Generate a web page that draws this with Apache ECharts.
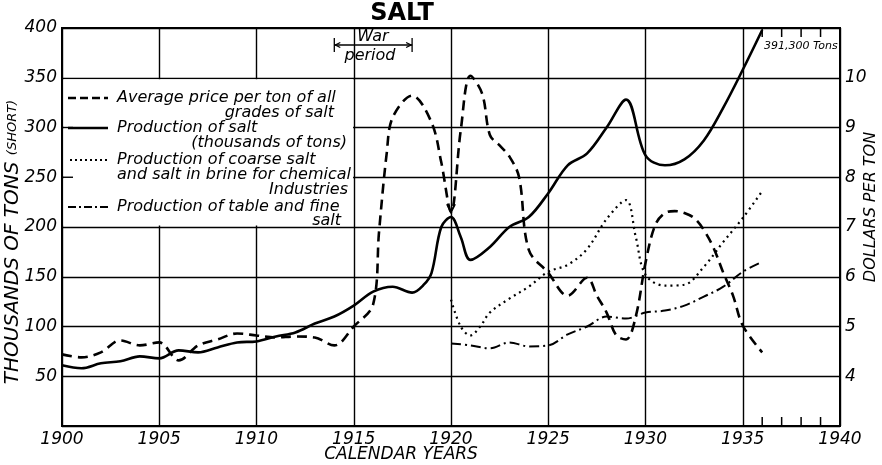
<!DOCTYPE html>
<html>
<head>
<meta charset="utf-8">
<script src="https://cdn.jsdelivr.net/npm/echarts@6/dist/echarts.min.js"></script>
<style>
html, body { margin: 0; background: #fff; }
#chart { width: 882px; height: 465px; }
</style>
</head>
<body>
<div id="chart"></div>
<script>
// average price per ton, dollars (right axis)
var priceYears = [1900, 1901, 1902, 1903, 1904, 1905, 1906, 1907, 1908, 1909, 1910, 1911, 1912, 1913, 1914, 1915,
	1916, 1916.3, 1916.7, 1917, 1918, 1919, 1919.5, 1920, 1920.5, 1921, 1921.6, 1922, 1922.5, 1923, 1923.5,
	1924, 1925, 1926, 1927, 1927.5, 1928, 1928.5, 1929, 1929.5, 1930, 1930.5, 1931, 1931.5, 1932, 1932.5,
	1933, 1933.5, 1934, 1934.5, 1935, 1936];
var priceValues = [4.44, 4.38, 4.48, 4.72, 4.62, 4.68, 4.32, 4.62, 4.74, 4.86, 4.82, 4.78, 4.8, 4.78, 4.62, 5.0,
	5.45, 6.9, 8.5, 9.2, 9.64, 9.1, 8.3, 7.3, 8.94, 10.04, 9.68, 8.85, 8.64, 8.42, 8.0,
	6.54, 6.08, 5.62, 5.98, 5.62, 5.28, 4.82, 4.74, 5.2, 6.28, 7.04, 7.28, 7.32, 7.28, 7.18,
	6.94, 6.58, 6.08, 5.62, 5.02, 4.48];

// production of salt, thousands of tons
var saltYears = [1900, 1901, 1902, 1903, 1904, 1905, 1906, 1907, 1908, 1909, 1910, 1911, 1912, 1913, 1914, 1915,
	1916, 1917, 1918, 1918.6, 1919, 1919.5, 1920, 1920.5, 1921, 1922, 1923, 1924, 1925, 1926, 1927, 1928,
	1929, 1930, 1931, 1932, 1933, 1934, 1935, 1936];
var saltValues = [61, 58, 63, 65, 70, 68, 76, 74, 79, 84, 85, 90, 94, 103, 110, 121,
	135, 140, 134, 142, 154, 200, 210, 190, 167, 180, 200, 210, 234, 262, 274, 300,
	328, 272, 262, 268, 287, 320, 358, 398];

// coarse salt and salt in brine for chemical industries
var coarseYears = [1920, 1920.5, 1921, 1921.5, 1922, 1923, 1924, 1925, 1926, 1927, 1928, 1929, 1929.5,
	1930, 1931, 1932, 1933, 1934, 1935, 1936];
var coarseValues = [127, 100, 91, 100, 114, 128, 140, 155, 162, 178, 208, 227, 190,
	152, 141, 142, 160, 185, 209, 236];

// table and fine salt
var tableYears = [1920, 1921, 1922, 1923, 1924, 1925, 1926, 1927, 1928, 1929, 1930, 1931, 1932, 1933, 1934, 1935, 1936];
var tableValues = [83, 81, 78, 84, 80, 81, 92, 100, 110, 108, 114, 116, 121, 130, 140, 155, 165];

var leftTicks = [50, 100, 150, 200, 250, 300, 350, 400];
var rightTicks = [4, 5, 6, 7, 8, 9, 10];
var extraTickYears = [1936, 1937, 1938, 1939];

var FONT = 'DejaVu Sans';

function pairs(xs, ys) {
	var out = [];
	for (var i = 0; i < xs.length; i++) {
		out.push([xs[i], ys[i]]);
	}
	return out;
}

var chart = echarts.init(document.getElementById('chart'));

var option = {
	backgroundColor: '#fff',
	animation: false,
	grid: {
		left: 62,
		right: 42,
		top: 28,
		bottom: 39,
		show: true,
		borderColor: '#000',
		borderWidth: 2
	},
	xAxis: {
		type: 'value',
		min: 1900,
		max: 1940,
		interval: 5,
		axisLine: { show: true, lineStyle: { color: '#000', width: 2 } },
		axisTick: { show: false },
		splitLine: { show: true, lineStyle: { color: '#000', width: 1.4 } },
		axisLabel: {
			color: '#000',
			fontFamily: FONT,
			fontStyle: 'italic',
			fontSize: 17,
			margin: 5,
			formatter: function (v) { return String(v); }
		}
	},
	yAxis: [
		{
			type: 'value',
			min: 0,
			max: 400,
			interval: 50,
			axisLine: { show: true, lineStyle: { color: '#000', width: 2 } },
			axisTick: { show: false },
			splitLine: { show: true, lineStyle: { color: '#000', width: 1.4 } },
			axisLabel: {
				color: '#000',
				fontFamily: FONT,
				fontStyle: 'italic',
				fontSize: 17,
				margin: 5,
				formatter: function (v) {
					return leftTicks.indexOf(v) >= 0 ? String(v) : '';
				}
			}
		},
		{
			type: 'value',
			min: 3,
			max: 11,
			interval: 1,
			position: 'right',
			axisLine: { show: true, lineStyle: { color: '#000', width: 2 } },
			axisTick: { show: false },
			splitLine: { show: false },
			axisLabel: {
				color: '#000',
				fontFamily: FONT,
				fontStyle: 'italic',
				fontSize: 17,
				margin: 5,
				formatter: function (v) {
					return rightTicks.indexOf(v) >= 0 ? String(v) : '';
				}
			}
		}
	],
	series: [
		{
			name: 'Average price per ton of all grades of salt',
			type: 'line',
			yAxisIndex: 1,
			smooth: 0.35,
			symbol: 'none',
			z: 3,
			lineStyle: { color: '#000', width: 2.6, type: [10, 6] },
			data: pairs(priceYears, priceValues)
		},
		{
			name: 'Production of salt',
			type: 'line',
			smooth: 0.35,
			symbol: 'none',
			z: 3,
			lineStyle: { color: '#000', width: 2.6, type: 'solid' },
			data: pairs(saltYears, saltValues)
		},
		{
			name: 'Production of coarse salt',
			type: 'line',
			smooth: 0.35,
			symbol: 'none',
			z: 3,
			lineStyle: { color: '#000', width: 2.2, type: [2, 4] },
			data: pairs(coarseYears, coarseValues)
		},
		{
			name: 'Production of table and fine salt',
			type: 'line',
			smooth: 0.35,
			symbol: 'none',
			z: 3,
			lineStyle: { color: '#000', width: 2, type: [10, 4, 2, 4] },
			data: pairs(tableYears, tableValues)
		}
	]
};

chart.setOption(option);

function px(year, value, axis) {
	return chart.convertToPixel({ xAxisIndex: 0, yAxisIndex: axis || 0 }, [year, value]);
}

function legendText(text, x, y, align) {
	return {
		type: 'text',
		z: 10,
		style: {
			text: text,
			x: x,
			y: y,
			align: align || 'left',
			verticalAlign: 'middle',
			fill: '#000',
			fontFamily: FONT,
			fontStyle: 'italic',
			fontSize: 16
		}
	};
}

function sampleLine(x1, x2, y, width, dash) {
	return {
		type: 'line',
		z: 10,
		shape: { x1: x1, y1: y, x2: x2, y2: y },
		style: { stroke: '#000', lineWidth: width, lineDash: dash }
	};
}

function drawExtras() {
	var tl = px(1900, 350);
	var br = px(1915, 200);
	var elements = [];

	// blank area behind the legend
	elements.push({
		type: 'rect',
		z: 1,
		shape: { x: tl[0] + 1.5, y: tl[1] + 1.5, width: br[0] - tl[0] - 2.2, height: br[1] - tl[1] - 3 },
		style: { fill: '#fff' }
	});
	[300, 250].forEach(function (v) {
		var p = px(1900, v);
		elements.push({
			type: 'line', z: 2,
			shape: { x1: p[0], y1: p[1], x2: p[0] + 11, y2: p[1] },
			style: { stroke: '#000', lineWidth: 1.4 }
		});
	});

	elements.push(sampleLine(68, 108, 98, 2.6, [8, 4]));
	elements.push(legendText('Average price per ton of all', 117, 98));
	elements.push(legendText('grades of salt', 334, 113, 'right'));
	elements.push(sampleLine(68, 108, 128, 2.6, null));
	elements.push(legendText('Production of salt', 117, 128));
	elements.push(legendText('(thousands of tons)', 347, 143, 'right'));
	elements.push(sampleLine(70, 107, 160, 2.2, [2, 3]));
	elements.push(legendText('Production of coarse salt', 117, 160));
	elements.push(legendText('and salt in brine for chemical', 117, 175));
	elements.push(legendText('Industries', 348, 190, 'right'));
	elements.push(sampleLine(68, 108, 207, 2, [8, 3, 2, 3]));
	elements.push(legendText('Production of table and fine', 117, 207));
	elements.push(legendText('salt', 341, 221, 'right'));

	// title
	elements.push({
		type: 'text', z: 10,
		style: {
			text: 'SALT', x: 402, y: 14, align: 'center', verticalAlign: 'middle',
			fill: '#000', fontFamily: FONT, fontWeight: 'bold', fontSize: 24
		}
	});

	// axis names
	elements.push({
		type: 'text', z: 10, x: 13, y: 242, rotation: Math.PI / 2,
		style: {
			text: '{a|THOUSANDS OF TONS }{b|(SHORT)}', align: 'center', verticalAlign: 'middle',
			fill: '#000',
			rich: {
				a: { fontFamily: FONT, fontStyle: 'italic', fontSize: 20, fill: '#000' },
				b: { fontFamily: FONT, fontStyle: 'italic', fontSize: 13, fill: '#000' }
			}
		}
	});
	elements.push({
		type: 'text', z: 10, x: 871, y: 207, rotation: Math.PI / 2,
		style: {
			text: 'DOLLARS PER TON', align: 'center', verticalAlign: 'middle',
			fill: '#000', fontFamily: FONT, fontStyle: 'italic', fontSize: 16
		}
	});
	elements.push({
		type: 'text', z: 10,
		style: {
			text: 'CALENDAR YEARS', x: 401, y: 455, align: 'center', verticalAlign: 'middle',
			fill: '#000', fontFamily: FONT, fontStyle: 'italic', fontSize: 17
		}
	});

	// war period bracket
	var w1 = px(1914, 0)[0];
	var w2 = px(1918, 0)[0];
	var wy = 45;
	elements.push({ type: 'line', z: 10, shape: { x1: w1, y1: wy, x2: w2, y2: wy }, style: { stroke: '#000', lineWidth: 1.3 } });
	elements.push({ type: 'line', z: 10, shape: { x1: w1, y1: wy - 7, x2: w1, y2: wy + 7 }, style: { stroke: '#000', lineWidth: 1.3 } });
	elements.push({ type: 'line', z: 10, shape: { x1: w2, y1: wy - 7, x2: w2, y2: wy + 7 }, style: { stroke: '#000', lineWidth: 1.3 } });
	elements.push({ type: 'polyline', z: 10, shape: { points: [[w1 + 6, wy - 2.5], [w1 + 1, wy], [w1 + 6, wy + 2.5]] }, style: { stroke: '#000', lineWidth: 1.3, fill: null } });
	elements.push({ type: 'polyline', z: 10, shape: { points: [[w2 - 6, wy - 2.5], [w2 - 1, wy], [w2 - 6, wy + 2.5]] }, style: { stroke: '#000', lineWidth: 1.3, fill: null } });
	elements.push({
		type: 'text', z: 10,
		style: { text: 'War', x: 373, y: 37, align: 'center', verticalAlign: 'middle', fill: '#000', fontFamily: FONT, fontStyle: 'italic', fontSize: 16 }
	});
	elements.push({
		type: 'text', z: 10,
		style: { text: 'period', x: 370, y: 56, align: 'center', verticalAlign: 'middle', fill: '#000', fontFamily: FONT, fontStyle: 'italic', fontSize: 16 }
	});

	// arrow head on the price curve at 1920
	var a = px(1920, 7.3, 1);
	elements.push({
		type: 'polyline', z: 10,
		shape: { points: [[a[0] - 4, a[1] - 8], [a[0], a[1]], [a[0] + 4, a[1] - 8]] },
		style: { stroke: '#000', lineWidth: 2, fill: null }
	});

	// off-scale label and extra ticks
	elements.push({
		type: 'text', z: 10,
		style: { text: '391,300 Tons', x: 764, y: 46, align: 'left', verticalAlign: 'middle', fill: '#000', fontFamily: FONT, fontStyle: 'italic', fontSize: 11 }
	});
	extraTickYears.forEach(function (yr) {
		var top = px(yr, 400);
		var bot = px(yr, 0);
		elements.push({ type: 'line', z: 10, shape: { x1: top[0], y1: top[1], x2: top[0], y2: top[1] + 9 }, style: { stroke: '#000', lineWidth: 1.5 } });
		elements.push({ type: 'line', z: 10, shape: { x1: bot[0], y1: bot[1], x2: bot[0], y2: bot[1] - 9 }, style: { stroke: '#000', lineWidth: 1.5 } });
	});

	chart.setOption({ graphic: { elements: elements } });
}

drawExtras();
</script>
</body>
</html>
